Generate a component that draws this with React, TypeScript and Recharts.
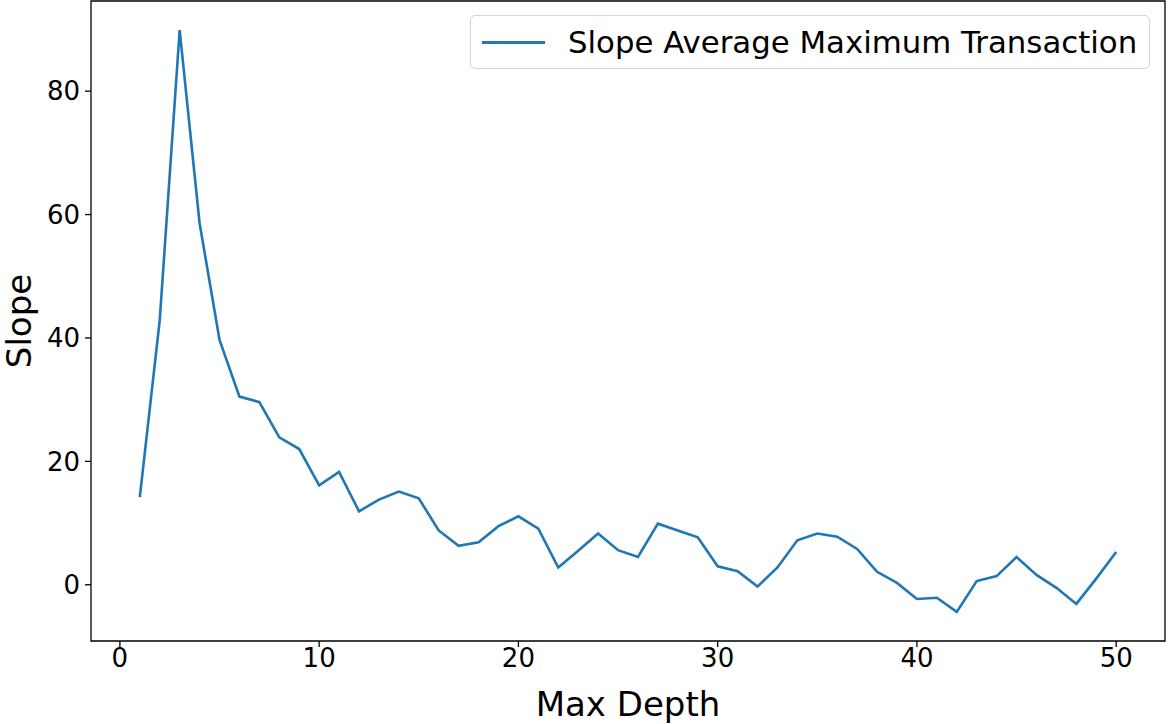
import React from "react";
import {
  Legend,
  Line,
  LineChart,
  ReferenceArea,
  XAxis,
  YAxis,
} from "recharts";

const depths = [
  1, 2, 3, 4, 5, 6, 7, 8, 9, 10,
  11, 12, 13, 14, 15, 16, 17, 18, 19, 20,
  21, 22, 23, 24, 25, 26, 27, 28, 29, 30,
  31, 32, 33, 34, 35, 36, 37, 38, 39, 40,
  41, 42, 43, 44, 45, 46, 47, 48, 49, 50,
];

const slopes = [
  14.2, 42.9, 89.9, 58.6, 39.7, 30.5, 29.6, 23.9, 22.0, 16.1,
  18.3, 11.9, 13.8, 15.1, 14.0, 8.8, 6.3, 6.9, 9.5, 11.1,
  9.1, 2.8, 5.5, 8.3, 5.6, 4.5, 9.9, 8.8, 7.7, 3.0,
  2.2, -0.3, 2.8, 7.2, 8.3, 7.8, 5.8, 2.1, 0.3, -2.3,
  -2.1, -4.4, 0.6, 1.4, 4.5, 1.6, -0.5, -3.1, 1.0, 5.3,
];

const xTicks = [0, 10, 20, 30, 40, 50];
const yTicks = [0, 20, 40, 60, 80];

const X_DOMAIN: [number, number] = [-1.45, 52.45];
const Y_DOMAIN: [number, number] = [-9.115, 94.615];

const FONT = "'DejaVu Sans', sans-serif";
const BLUE = "#1f77b4";

function LegendBox() {
  return (
    <div
      style={{
        width: 680,
        height: 54,
        boxSizing: "border-box",
        border: "1.5px solid #d4d4d4",
        borderRadius: 5,
        background: "rgba(255,255,255,0.8)",
        display: "flex",
        alignItems: "center",
        fontFamily: FONT,
        fontSize: 30.8,
        color: "#000",
      }}
    >
      <div style={{ width: 63, height: 3, background: BLUE, marginLeft: 11, marginRight: 23 }} />
      <span>Slope Average Maximum Transaction</span>
    </div>
  );
}

function SlopeLabel(props: any) {
  const { viewBox } = props;
  const cx = 19;
  const cy = viewBox.y + viewBox.height / 2;
  return (
    <text
      x={cx}
      y={cy}
      transform={`rotate(-90 ${cx} ${cy})`}
      textAnchor="middle"
      dominantBaseline="central"
      fontFamily={FONT}
      fontSize={34}
      fill="#000"
    >
      Slope
    </text>
  );
}

export default function App() {
  const data = depths.map((d, i) => ({ depth: d, slope: slopes[i] }));

  return (
    <div style={{ position: "absolute", left: 0, top: 0, background: "#fff" }}>
      <LineChart
        width={1169}
        height={724}
        data={data}
        margin={{ top: 1, right: 4, left: 0, bottom: 0 }}
      >
        <XAxis
          dataKey="depth"
          type="number"
          domain={X_DOMAIN}
          ticks={xTicks}
          allowDataOverflow
          height={83}
          axisLine={false}
          tickSize={6}
          tickMargin={2}
          tickLine={{ stroke: "#000", strokeWidth: 1.3 }}
          tick={{ fill: "#000", fontSize: 26, fontFamily: FONT }}
          label={{
            value: "Max Depth",
            position: "insideBottom",
            offset: 8,
            fill: "#000",
            fontSize: 34,
            fontFamily: FONT,
          }}
        />
        <YAxis
          type="number"
          domain={Y_DOMAIN}
          ticks={yTicks}
          allowDataOverflow
          width={91}
          axisLine={false}
          tickSize={6}
          tickMargin={5}
          tickLine={{ stroke: "#000", strokeWidth: 1.3 }}
          tick={{ fill: "#000", fontSize: 26, fontFamily: FONT }}
          label={<SlopeLabel />}
        />
        <ReferenceArea
          x1={X_DOMAIN[0]}
          x2={X_DOMAIN[1]}
          y1={Y_DOMAIN[0]}
          y2={Y_DOMAIN[1]}
          fill="none"
          fillOpacity={0}
          stroke="#000"
          strokeWidth={1.3}
          ifOverflow="visible"
        />
        <Line
          type="linear"
          dataKey="slope"
          name="Slope Average Maximum Transaction"
          stroke={BLUE}
          strokeWidth={2.6}
          dot={false}
          activeDot={false}
          isAnimationActive={false}
        />
        <Legend
          layout="horizontal"
          verticalAlign="middle"
          align="center"
          content={() => <LegendBox />}
          wrapperStyle={{ position: "absolute", left: 470, top: 15, width: 680 }}
        />
      </LineChart>
    </div>
  );
}
